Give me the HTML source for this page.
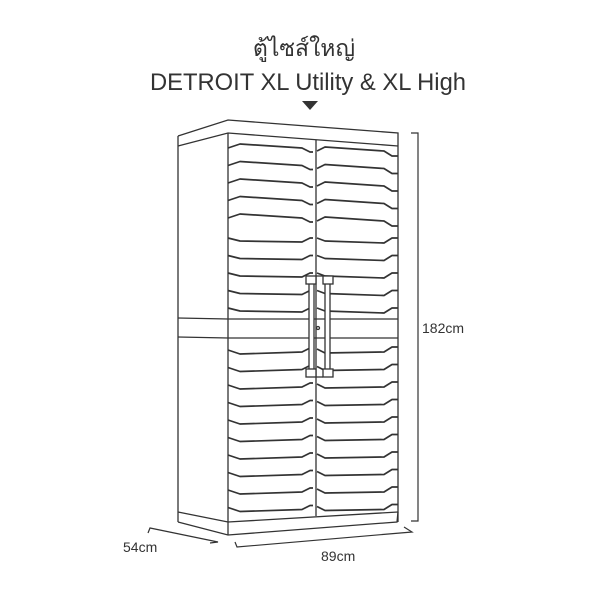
<!DOCTYPE html>
<html><head><meta charset="utf-8"><style>
html,body{margin:0;padding:0;background:#fff;}
svg{display:block}
text{font-family:"Liberation Sans","Noto Sans CJK SC",sans-serif;fill:#333}
</style></head><body>
<svg width="600" height="600" viewBox="0 0 600 600" xmlns="http://www.w3.org/2000/svg">
<text x="304" y="56" font-size="23" text-anchor="middle">ตู้ไซส์ใหญ่</text>
<text x="308" y="90" font-size="24" text-anchor="middle" textLength="316" lengthAdjust="spacingAndGlyphs">DETROIT XL Utility &amp; XL High</text>
<polygon points="302,101 318,101 310,110" fill="#333"/>
<g fill="none" stroke="#333" stroke-width="1.3">
<polyline points="178,136 228,120 398,133 398,146"/>
<line x1="178" y1="136" x2="178" y2="146"/>
<polyline points="178,146 228,133 398,146"/>
<line x1="178" y1="146" x2="178" y2="522"/>
<line x1="178" y1="318" x2="228" y2="319"/>
<line x1="178" y1="337" x2="228" y2="338"/>
<line x1="228" y1="133" x2="228" y2="522"/>
<line x1="398" y1="146" x2="398" y2="522"/>
<line x1="316" y1="140" x2="316" y2="516"/>
<line x1="228" y1="319" x2="398" y2="319"/>
<line x1="228" y1="338" x2="398" y2="338"/>
<polyline points="178,512 228,522 398,512"/>
<polyline points="178,522 228,535 397,522 398,512"/>
<line x1="228" y1="522" x2="228" y2="535"/>
</g>
<g fill="none" stroke="#333" stroke-width="1.7" stroke-linejoin="round">
<path d="M228,148 L240,144 L302,148 L310,152 L313,152 M317,151 L325,147 L384,151 L392,156 L398,156"/>
<path d="M228,165.5 L240,161.5 L302,165.5 L310,169.5 L313,169.5 M317,168.5 L325,164.5 L384,168.5 L392,173.5 L398,173.5"/>
<path d="M228,183 L240,179 L302,183 L310,187 L313,187 M317,186 L325,182 L384,186 L392,191 L398,191"/>
<path d="M228,200.5 L240,196.5 L302,200.5 L310,204.5 L313,204.5 M317,203.5 L325,199.5 L384,203.5 L392,208.5 L398,208.5"/>
<path d="M228,218 L240,214 L302,218 L310,222 L313,222 M317,221 L325,217 L384,221 L392,226 L398,226"/>
<path d="M228,238 L240,241 L302,242 L310,238 L313,238 M317,238 L325,241 L384,243 L392,238 L398,238"/>
<path d="M228,255.5 L240,258.5 L302,259.5 L310,255.5 L313,255.5 M317,255.5 L325,258.5 L384,260.5 L392,255.5 L398,255.5"/>
<path d="M228,273 L240,276 L302,277 L310,273 L313,273 M317,273 L325,276 L384,278 L392,273 L398,273"/>
<path d="M228,290.5 L240,293.5 L302,294.5 L310,290.5 L313,290.5 M317,290.5 L325,293.5 L384,295.5 L392,290.5 L398,290.5"/>
<path d="M228,308 L240,311 L302,312 L310,308 L313,308 M317,308 L325,311 L384,313 L392,308 L398,308"/>
<path d="M228,350 L240,354 L302,352 L310,348 L313,348 M317,349 L325,353 L384,352 L392,347 L398,347"/>
<path d="M228,367.5 L240,371.5 L302,369.5 L310,365.5 L313,365.5 M317,366.5 L325,370.5 L384,369.5 L392,364.5 L398,364.5"/>
<path d="M228,385 L240,389 L302,387 L310,383 L313,383 M317,384 L325,388 L384,387 L392,382 L398,382"/>
<path d="M228,402.5 L240,406.5 L302,404.5 L310,400.5 L313,400.5 M317,401.5 L325,405.5 L384,404.5 L392,399.5 L398,399.5"/>
<path d="M228,420 L240,424 L302,422 L310,418 L313,418 M317,419 L325,423 L384,422 L392,417 L398,417"/>
<path d="M228,437.5 L240,441.5 L302,439.5 L310,435.5 L313,435.5 M317,436.5 L325,440.5 L384,439.5 L392,434.5 L398,434.5"/>
<path d="M228,455 L240,459 L302,457 L310,453 L313,453 M317,454 L325,458 L384,457 L392,452 L398,452"/>
<path d="M228,472.5 L240,476.5 L302,474.5 L310,470.5 L313,470.5 M317,471.5 L325,475.5 L384,474.5 L392,469.5 L398,469.5"/>
<path d="M228,490 L240,494 L302,492 L310,488 L313,488 M317,489 L325,493 L384,492 L392,487 L398,487"/>
<path d="M228,507.5 L240,511.5 L302,509.5 L310,505.5 L313,505.5 M317,506.5 L325,510.5 L384,509.5 L392,504.5 L398,504.5"/>
</g>
<g fill="#fff" stroke="#333" stroke-width="1.3">
<rect x="309" y="278" width="5" height="98"/>
<rect x="325" y="278" width="5" height="98"/>
<rect x="306" y="276" width="10" height="8"/>
<rect x="323" y="276" width="10" height="8"/>
<rect x="306" y="369" width="10" height="8"/>
<rect x="323" y="369" width="10" height="8"/>
<line x1="316" y1="276" x2="323" y2="276"/>
<line x1="316" y1="377" x2="323" y2="377"/>
<circle cx="318" cy="328" r="1.5"/>
</g>
<g fill="none" stroke="#333" stroke-width="1.2">
<polyline points="411,133 418,133 418,521 411,521"/>
<polyline points="148,533 150,528 218,542 210,543"/>
<polyline points="235,542 237,547 412,532 404,527"/>
</g>
<text x="422" y="333" font-size="14">182cm</text>
<text x="123" y="552" font-size="14">54cm</text>
<text x="321" y="561" font-size="14">89cm</text>
</svg>
</body></html>
